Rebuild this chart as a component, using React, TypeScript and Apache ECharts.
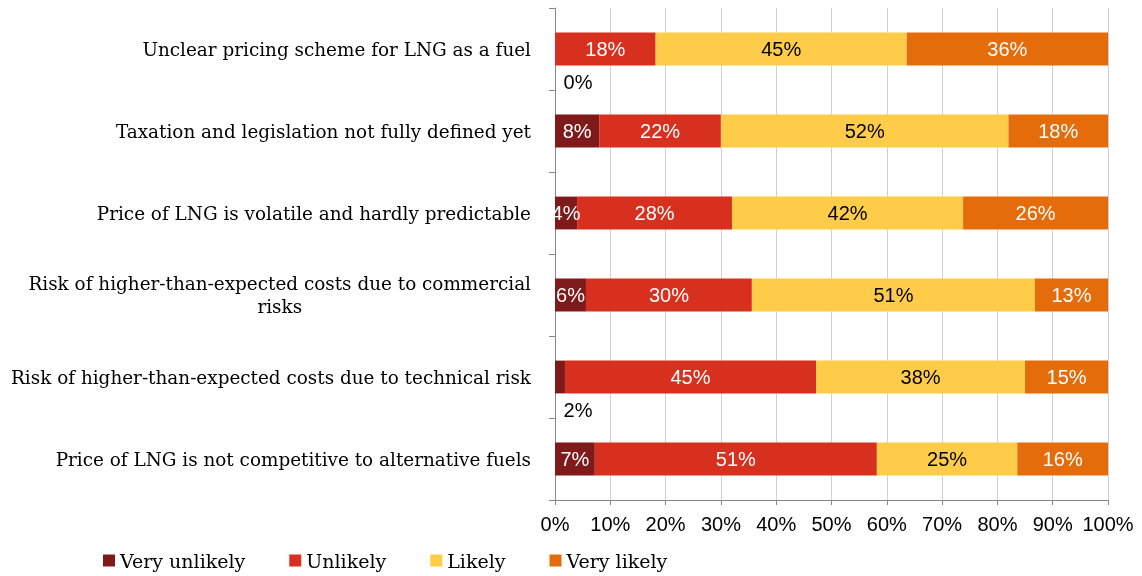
import React, { useEffect, useRef } from "react";
import * as echarts from "echarts";

const categories = [
  "Unclear pricing scheme for LNG as a fuel",
  "Taxation and legislation not fully defined yet",
  "Price of LNG is volatile and hardly predictable",
  "Risk of higher-than-expected costs due to commercial\nrisks",
  "Risk of higher-than-expected costs due to technical risk",
  "Price of LNG is not competitive to alternative fuels",
];
const seriesNames = ["Very unlikely", "Unlikely", "Likely", "Very likely"];
const veryUnlikely = [0, 8, 4, 5.6, 1.8, 7.2];
const unlikely = [18.2, 22, 28, 30, 45.4, 51];
const likely = [45.4, 52, 41.8, 51.2, 37.8, 25.4];
const veryLikely = [36.4, 18, 26.2, 13.2, 15, 16.4];
const xTicks = [0, 10, 20, 30, 40, 50, 60, 70, 80, 90, 100];

const colors = ["#7E1A1A", "#D8301E", "#FFCC4A", "#E46C0A"];
const labelColors = ["#ffffff", "#ffffff", "#000000", "#ffffff"];

export default function App() {
  const ref = useRef<HTMLDivElement>(null);
  useEffect(() => {
    if (!ref.current) return;
    const chart = echarts.init(ref.current, null, { renderer: "svg" });
    const values = [veryUnlikely, unlikely, likely, veryLikely];
    const sans = "Liberation Sans, Arial, sans-serif";
    const serif = "DejaVu Serif, serif";
    const series = values.map((arr, si) => ({
      name: seriesNames[si],
      type: "bar",
      stack: "total",
      barWidth: "40%",
      itemStyle: { color: colors[si] },
      label: {
        show: true,
        position: "inside",
        color: labelColors[si],
        fontFamily: sans,
        fontSize: 20,
        formatter: (p: any) => Math.round(p.value) + "%",
      },
      data: arr.map((v, i) => {
        if (si === 0 && v < 3) {
          return {
            value: v,
            label: {
              position: "bottom",
              distance: 7,
              offset: [v === 0 ? 23 : 18, 0],
              color: "#000000",
            },
          };
        }
        return v;
      }),
    }));
    chart.setOption({
      animation: false,
      grid: { left: 555, right: 34, top: 8, bottom: 76 },
      legend: {
        left: 98,
        top: 546,
        icon: "rect",
        itemWidth: 12,
        itemHeight: 12,
        itemGap: 44,
        textStyle: { fontFamily: serif, fontSize: 19, color: "#000" },
        data: seriesNames,
      },
      xAxis: {
        type: "value",
        min: xTicks[0],
        max: xTicks[xTicks.length - 1],
        interval: 10,
        axisLine: { show: true, lineStyle: { color: "#888888" } },
        axisTick: { show: true, length: 5, lineStyle: { color: "#888888" } },
        splitLine: { show: true, lineStyle: { color: "#d0d0d0" } },
        axisLabel: {
          formatter: "{value}%",
          fontFamily: sans,
          fontSize: 20,
          color: "#000",
          margin: 14,
        },
      },
      yAxis: {
        type: "category",
        inverse: true,
        data: categories,
        axisLine: { show: true, lineStyle: { color: "#888888" } },
        axisTick: { show: true, length: 6, lineStyle: { color: "#888888" } },
        splitLine: { show: false },
        axisLabel: {
          margin: 24,
          formatter: (v: string) =>
            v
              .split("\n")
              .map((s) => "{c|" + s + "}")
              .join("\n"),
          rich: {
            c: {
              align: "center",
              fontFamily: serif,
              fontSize: 18.4,
              color: "#000",
              lineHeight: 23,
            },
          },
        },
      },
      series,
    });
    return () => chart.dispose();
  }, []);
  return (
    <div
      ref={ref}
      style={{ position: "fixed", left: 0, top: 0, width: 1142, height: 576 }}
    />
  );
}
